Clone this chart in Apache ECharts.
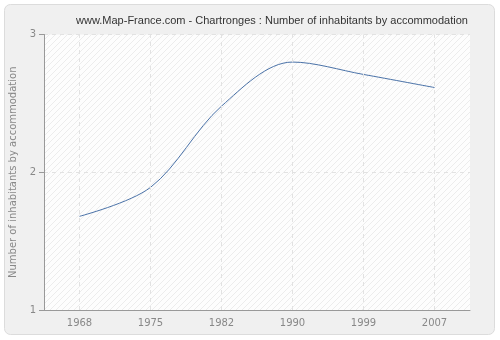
<!DOCTYPE html>
<html><head><meta charset="utf-8">
<script src="https://cdn.jsdelivr.net/npm/echarts@6/dist/echarts.min.js"></script>
<style>html,body{margin:0;padding:0;background:#fff}#c{width:500px;height:340px}</style>
</head><body><div id="c"></div>
<script>
const years = ['1968','1975','1982','1990','1999','2007'];
const values = [1.68, 1.89, 2.48, 2.80, 2.71, 2.615];
const yTicks = [1, 2, 3];

const pc = document.createElement('canvas');
pc.width = 6; pc.height = 6;
const px = pc.getContext('2d');
px.fillStyle = '#fdfdfd'; px.fillRect(0,0,6,6);
px.strokeStyle = '#ececec'; px.lineWidth = 1;
px.beginPath(); px.moveTo(0,6); px.lineTo(6,0); px.stroke();
px.beginPath(); px.moveTo(-1,1); px.lineTo(1,-1); px.stroke();
px.beginPath(); px.moveTo(5,7); px.lineTo(7,5); px.stroke();

const chart = echarts.init(document.getElementById('c'), null, {renderer:'canvas'});
chart.setOption({
  animation:false,
  backgroundColor:'#fff',
  graphic:[{type:'rect', z:-10, silent:true, shape:{x:4.5,y:4.5,width:490,height:330,r:6},
    style:{fill:'#f0f0f0', stroke:'#dcdcdc', lineWidth:1}}],
  title:{text:'www.Map-France.com - Chartronges : Number of inhabitants by accommodation',
    left:267, textAlign:'center', top:10,
    textStyle:{fontFamily:'Liberation Sans', fontSize:11, fontWeight:'normal', color:'#333'}},
  grid:{left:40, right:30, top:34.5, bottom:30, show:true, backgroundColor:{image:pc, repeat:'repeat'}, borderWidth:0},
  xAxis:{type:'category', data:years, boundaryGap:true,
    axisLine:{lineStyle:{color:'#999'}},
    axisTick:{alignWithLabel:true, length:5, lineStyle:{color:'#999'}},
    axisLabel:{color:'#888', fontFamily:'DejaVu Sans', fontSize:10, margin:8},
    splitLine:{show:false}},
  yAxis:{type:'value', min:yTicks[0], max:yTicks[yTicks.length-1], interval:1,
    name:'Number of inhabitants by accommodation', nameLocation:'middle', nameGap:26,
    nameTextStyle:{color:'#888', fontFamily:'DejaVu Sans', fontSize:10},
    axisLine:{show:true, lineStyle:{color:'#999'}},
    axisTick:{show:true, length:5, lineStyle:{color:'#999'}},
    axisLabel:{color:'#888', fontFamily:'DejaVu Sans', fontSize:10, margin:8},
    splitLine:{show:true, lineStyle:{color:'#e2e2e2', type:[4,4]}}},
  series:[{type:'line', data:values, smooth:0.33, showSymbol:false,
    lineStyle:{color:'#4a72a8', width:1},
    markLine:{silent:true, symbol:'none', label:{show:false},
      lineStyle:{color:'#e2e2e2', type:[4,4], width:1},
      data: years.map(y => ({xAxis:y}))}}]
});
</script></body></html>
